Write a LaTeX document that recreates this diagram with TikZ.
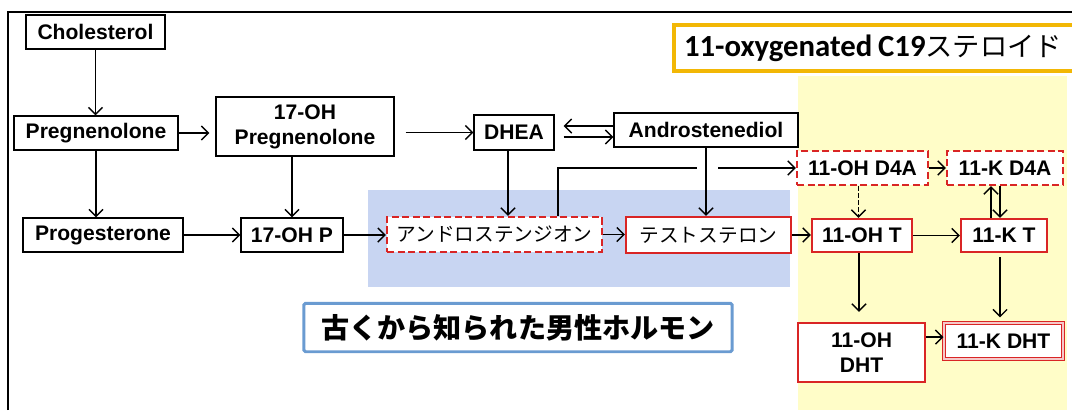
\documentclass[tikz,border=0pt]{standalone}
\usepackage{fontspec}
\setmainfont{Liberation Sans}
\newfontfamily\jpfont{Noto Sans CJK JP}
\newfontfamily\calfont{Carlito}
\usepackage{xcolor}
\usetikzlibrary{arrows.meta}

\definecolor{boxred}{HTML}{D92525}
\definecolor{yellowbg}{HTML}{FFFDC8}
\definecolor{bluebg}{HTML}{C8D5F2}
\definecolor{titlegold}{HTML}{F2B705}
\definecolor{noteblue}{HTML}{6A9BD1}

\begin{document}
\begin{tikzpicture}[x=0.02cm,y=-0.02cm,
    box/.style={draw,line width=0.8pt,fill=white,inner sep=0pt,align=center,
      font=\bfseries\fontsize{12}{14.2}\selectfont},
    redbox/.style={box,draw=boxred,line width=1.4pt},
    reddash/.style={redbox,dash pattern=on 4pt off 2pt},
    jp/.style={font=\jpfont\fontsize{11.2}{13}\selectfont},
    flow/.style={-{Straight Barb[length=4pt,width=8pt]},line width=0.8pt}]
    \useasboundingbox (0,0) rectangle (1072,410);

    % Background areas
    \fill[yellowbg] (798,76) rectangle (1067,410);
    \fill[bluebg] (368,190) rectangle (790,287);

    % Frame
    \draw[line width=0.9pt] (8,410) -- (8,12) -- (1072,12);

    % Headings
    \node[draw=titlegold,line width=2.3pt,fill=white,anchor=west,
      text width=7.64cm,inner xsep=0.2cm,minimum height=0.92cm,align=left] (title) at (672,48)
      {{\calfont\bfseries\fontsize{17.5}{19}\selectfont 11-oxygenated C19}{\jpfont\fontsize{15.5}{19}\selectfont ステロイド}};
    \node[draw=noteblue,line width=1.7pt,fill=white,rounded corners=1pt,
      minimum width=8.57cm,minimum height=0.97cm,
      font=\jpfont\bfseries\fontsize{16}{18}\selectfont] (note) at (518,327.5) {古くから知られた男性ホルモン};

    % Classic pathway
    \node[box,minimum width=2.78cm,minimum height=0.68cm] (chol) at (95.5,32) {Cholesterol};
    \node[box,minimum width=3.28cm,minimum height=0.68cm] (preg) at (96,133) {Pregnenolone};
    \node[box,minimum width=3.56cm,minimum height=1.18cm] (ohpreg) at (305,126.5) {17-OH\\Pregnenolone};
    \node[box,minimum width=1.6cm,minimum height=0.7cm] (dhea) at (514,132.5) {DHEA};
    \node[box,minimum width=3.68cm,minimum height=0.68cm] (adiol) at (706,130) {Androstenediol};
    \node[box,minimum width=3.2cm,minimum height=0.68cm] (prog) at (103,235) {Progesterone};
    \node[box,minimum width=2.04cm,minimum height=0.68cm] (ohp) at (292,235) {17-OH P};
    \node[reddash,jp,minimum width=4.3cm,minimum height=0.7cm] (adione) at (494.5,234.5) {アンドロステンジオン};
    \node[redbox,jp,minimum width=3.3cm,minimum height=0.72cm] (testo) at (708.5,235) {テストステロン};

    % 11-oxygenated pathway
    \node[reddash,minimum width=2.62cm,minimum height=0.68cm] (ohd4a) at (862.5,168) {11-OH D4A};
    \node[reddash,minimum width=2.32cm,minimum height=0.68cm] (kd4a) at (1005,168) {11-K D4A};
    \node[redbox,minimum width=2cm,minimum height=0.66cm] (oht) at (862,235.5) {11-OH T};
    \node[redbox,minimum width=1.72cm,minimum height=0.66cm] (kt) at (1004,235.5) {11-K T};
    \node[redbox,minimum width=2.54cm,minimum height=1.18cm] (ohdht) at (861.5,352.5) {11-OH\\DHT};
    \node[box,draw=boxred,line width=0.6pt,double=boxred!25,double distance=1.2pt,
      minimum width=2.38cm,minimum height=0.72cm] (kdht) at (1003.5,341) {11-K DHT};

    % Arrows
    \draw[flow] (chol.south) -- (chol.south |- preg.north);
    \draw[flow,shorten >=0.12cm] (preg.east) -- (ohpreg.west |- preg.east);
    \draw[flow] (preg.south) -- (preg.south |- prog.north);
    \draw[flow] (ohp.north |- ohpreg.south) -- (ohp.north);
    \draw[flow,shorten <=0.22cm] (ohpreg.east |- dhea.west) -- (dhea.west);
    \draw[flow,shorten >=0.18cm] ([yshift=0.08cm]adiol.west) -- ([yshift=0.08cm]adiol.west -| dhea.east);
    \draw[flow,shorten <=0.18cm] ([yshift=-0.14cm]adiol.west -| dhea.east) -- ([yshift=-0.14cm]adiol.west);
    \draw[flow] ([xshift=-0.12cm]dhea.south) -- ([xshift=-0.12cm]dhea.south |- adione.north);
    \draw[flow] (adiol.south) -- (adiol.south |- testo.north);
    \draw[flow] (prog.east) -- (prog.east -| ohp.west);
    \draw[flow] (ohp.east) -- (ohp.east -| adione.west);
    \draw[flow] (adione.east) -- (adione.east -| testo.west);
    \draw[flow] (testo.east) -- (testo.east -| oht.west);

    % line with a gap where it crosses
    \coordinate (hop1) at (558,168);
    \coordinate (hop2) at (697,168);
    \coordinate (hop3) at (718,168);
    \draw[line width=0.8pt] (adione.north -| hop1) -- (hop1) -- (hop2);
    \draw[flow] (hop3) -- (ohd4a.west);

    \draw[flow] (ohd4a.east) -- (kd4a.west);
    \draw[flow,dash pattern=on 2.5pt off 1.5pt] ([xshift=-0.08cm]ohd4a.south) -- ([xshift=-0.08cm]ohd4a.south |- oht.north);
    \draw[flow] (oht.east) -- (kt.west);
    \draw[flow] ([xshift=-0.26cm]kt.north) -- ([xshift=-0.26cm]kt.north |- kd4a.south);
    \draw[flow] ([xshift=-0.1cm]kd4a.south) -- ([xshift=-0.1cm]kd4a.south |- kt.north);
    \draw[flow,shorten >=0.2cm] ([xshift=-0.06cm]oht.south) -- ([xshift=-0.06cm]oht.south |- ohdht.north);
    \draw[flow,shorten <=0.08cm,shorten >=0.1cm] ([xshift=-0.08cm]kt.south) -- ([xshift=-0.08cm]kt.south |- kdht.north);
    \draw[flow] ([yshift=0.08cm]kdht.west -| ohdht.east) -- ([yshift=0.08cm]kdht.west);
\end{tikzpicture}
\end{document}
